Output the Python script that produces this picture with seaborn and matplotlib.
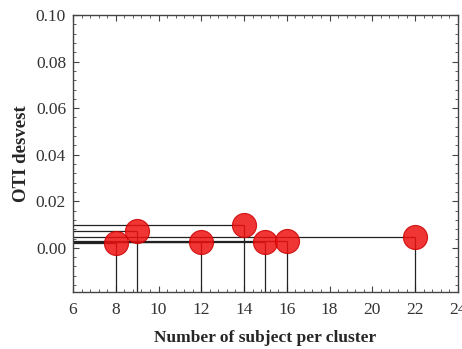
import matplotlib
matplotlib.use("Agg")
import matplotlib.pyplot as plt
from matplotlib.ticker import MultipleLocator, AutoMinorLocator
import seaborn as sns
import pandas as pd

subjects = [8, 9, 12, 14, 15, 16, 22]
oti_sd = [0.0022, 0.0073, 0.0027, 0.0100, 0.0025, 0.0029, 0.0045]

sns.set_style("ticks")
plt.rcParams['font.family'] = ['Liberation Serif', 'DejaVu Serif']

df = pd.DataFrame({"x": subjects, "y": oti_sd})

fig = plt.figure(figsize=(4.62, 3.49), dpi=100)
ax = fig.add_axes([0.158, 0.163, 0.833, 0.794])

xmin, xmax = 6, 24
ymin, ymax = -0.019, 0.10

ax.hlines(df["y"], xmin, df["x"], color="#222222", lw=0.9, zorder=2)
ax.vlines(df["x"], ymin, df["y"], color="#222222", lw=0.9, zorder=2)
sns.scatterplot(data=df, x="x", y="y", ax=ax, s=300, color="#ee1111",
                alpha=0.85, edgecolor="#cc0000", linewidth=0.8, zorder=3, legend=False)

ax.set_xlim(xmin, xmax)
ax.set_ylim(ymin, ymax)
ax.xaxis.set_major_locator(MultipleLocator(2))
ax.xaxis.set_minor_locator(AutoMinorLocator(5))
ax.set_yticks([0.00, 0.02, 0.04, 0.06, 0.08, 0.10])
ax.yaxis.set_minor_locator(MultipleLocator(0.004))
ax.yaxis.set_major_formatter(matplotlib.ticker.FormatStrFormatter('%.2f'))
ax.tick_params(which="both", direction="in", top=True, right=True, color="#444444")
ax.tick_params(which="major", length=4, width=0.8, labelsize=12.5, colors="#444444", labelcolor="#333333")
ax.tick_params(which="minor", length=2, width=0.6)
ax.tick_params(axis="x", pad=7)
ax.tick_params(axis="y", pad=5)
for s in ax.spines.values():
    s.set_linewidth(1.0)
    s.set_color("#444444")

ax.set_xlabel("Number of subject per cluster", fontsize=12.5, fontweight="bold", labelpad=9)
ax.set_ylabel("OTI desvest", fontsize=13.5, fontweight="bold", labelpad=4)

fig.savefig("out.png", dpi=100)
